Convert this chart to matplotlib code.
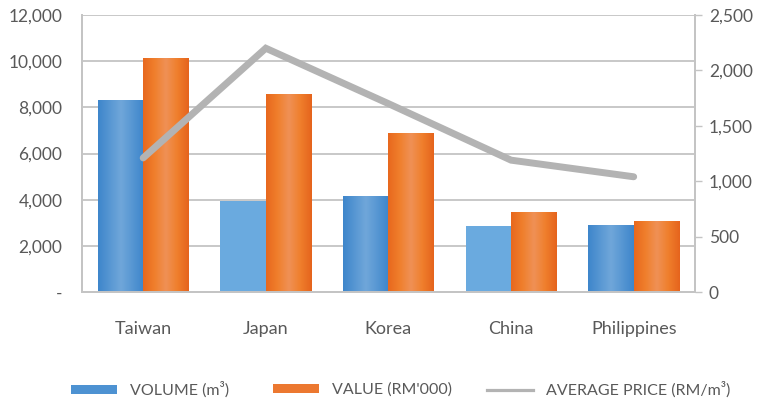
import numpy as np
import matplotlib.pyplot as plt
from matplotlib.patches import Patch
from matplotlib.lines import Line2D
from matplotlib.colors import LinearSegmentedColormap
from matplotlib.ticker import FuncFormatter

plt.rcParams['font.family'] = ['Lato', 'DejaVu Sans']

# data
countries = ['Taiwan', 'Japan', 'Korea', 'China', 'Philippines']
volume = [8300, 3950, 4150, 2850, 2900]          # m3
value = [10100, 8550, 6850, 3450, 3050]          # RM'000
avg_price = [1210, 2200, 1700, 1190, 1040]       # RM/m3
volume_shaded = [True, False, True, False, True]  # some blue bars are flat in the original
legend_labels = ['VOLUME (m³)', "VALUE (RM'000)", 'AVERAGE PRICE (RM/m³)']

TEXT = '#595959'
GRID = '#C4C4C4'
BLUE_FLAT = '#6AAADF'
blue_cmap = LinearSegmentedColormap.from_list('b', ['#3E86CB', '#70A7DA', '#3E86CB'])
orange_cmap = LinearSegmentedColormap.from_list('o', ['#E8681E', '#F07F2C', '#EF9156', '#F07F2C', '#E5641D'])

fig = plt.figure(figsize=(7.65, 4.03), dpi=100)
ax = fig.add_axes([0.107, 0.2754, 0.8015, 0.6874])
ax2 = ax.twinx()

x = np.arange(len(countries))
w = 0.37
grad = np.linspace(0, 1, 64).reshape(1, -1)


def gradient_bar(x0, h, cmap):
    ax.imshow(grad, cmap=cmap, extent=(x0, x0 + w, 0, h), aspect='auto',
              interpolation='bicubic', zorder=2)


for i in range(len(countries)):
    if volume_shaded[i]:
        gradient_bar(x[i] - w, volume[i], blue_cmap)
    else:
        ax.bar(x[i] - w / 2, volume[i], w, color=BLUE_FLAT, zorder=2)
    gradient_bar(x[i], value[i], orange_cmap)

ax.set_xlim(-0.5, len(countries) - 0.5)
ax.set_ylim(0, 12000)
ax.set_yticks(np.arange(0, 12001, 2000))
ax.yaxis.set_major_formatter(FuncFormatter(lambda v, p: '-' if v == 0 else f'{v:,.0f}'))
ax.grid(axis='y', color=GRID, lw=1.3, zorder=0)
ax.set_axisbelow(True)
ax.set_xticks(x)
ax.set_xticklabels(countries)
ax.tick_params(axis='both', length=0, colors=TEXT, labelsize=12.5)
ax.tick_params(axis='x', pad=21, labelsize=13)
ax.tick_params(axis='y', pad=14)

ax2.plot(x, avg_price, color='#B3B3B3', lw=5, solid_capstyle='round',
         solid_joinstyle='miter', zorder=5)
ax2.set_ylim(0, 2500)
ax2.set_yticks(np.arange(0, 2501, 500))
ax2.yaxis.set_major_formatter(FuncFormatter(lambda v, p: f'{v:,.0f}'))
ax2.tick_params(axis='y', length=5, width=1, color=GRID, colors=TEXT, labelsize=12.5, pad=5)
ax.set_zorder(ax2.get_zorder() - 1)
ax.patch.set_visible(False)

for a in (ax, ax2):
    a.spines['top'].set_visible(False)
    for s in ('left', 'right', 'bottom'):
        a.spines[s].set_color(GRID)
        a.spines[s].set_linewidth(1.3)

# legend entries are spaced unevenly in the original, so place each one on its own
handles = [
    Patch(facecolor='#4D92D2'),
    Patch(facecolor='#EC7830'),
    Line2D([0], [0], color='#B3B3B3', lw=2.3),
]
legend_x = [71, 273, 487]
for h, lab, lx in zip(handles, legend_labels, legend_x):
    leg = fig.legend([h], [lab], loc='center left', bbox_to_anchor=(lx / 765, 1 - 390 / 403),
                     frameon=False, fontsize=11.5, handlelength=2.87, handleheight=0.5,
                     handletextpad=0.85, borderpad=0, borderaxespad=0)
    for t in leg.get_texts():
        t.set_color(TEXT)

fig.savefig('out.png', dpi=100)
